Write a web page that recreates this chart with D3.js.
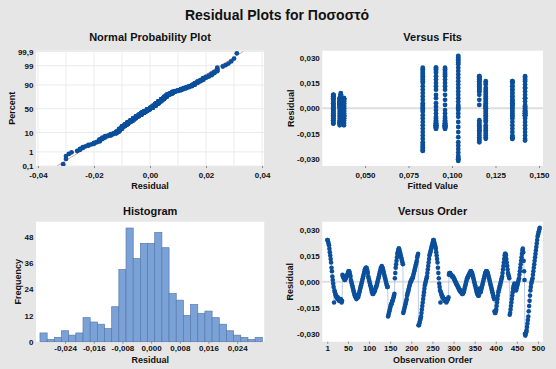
<!DOCTYPE html>
<html>
<head>
<meta charset="utf-8">
<script src="https://cdnjs.cloudflare.com/ajax/libs/d3/7.8.5/d3.min.js"></script>
<style>
body { margin: 0; background: #e6e6e6; }
svg text { font-family: "Liberation Sans", Arial, sans-serif; font-weight: bold; fill: #111; }
</style>
</head>
<body>
<div id="chart"></div>
<script>
// residuals in thousandths, observation order, 14 runs of 36 observations
const residRuns = [
    [24,24,23,22,21,19,17,15,13,11,8,6,3,1,-1,-3,-12,-5,-6,-7,-8,-8,-9,-9,-10,-9,-10,-10,-11,-10,-11,-11,-10,-11,-12,-11],
    [4,3,3,2,2,1,1,2,2,3,3,4,4,5,6,6,6,5,4,3,1,0,-1,-2,-3,-4,-5,-6,-7,-8,-8,-9,-9,-10,-9,-8],
    [-9,-9,-8,-7,-6,-5,-4,-3,-2,-1,0,1,2,3,4,5,6,7,7,8,8,8,7,6,5,3,2,1,0,-1,-2,-3,-4,-5,-6,-7],
    [-7,-7,-6,-6,-5,-5,-4,-3,-3,-2,-1,0,1,2,3,4,5,6,7,8,8,9,8,8,7,6,5,4,3,2,1,0,-1,-2,-3,-3],
    [-20,-19,-18,-17,-16,-15,-14,-13,-13,-12,-11,-11,-10,-9,-8,-7,2,5,8,10,12,14,16,17,18,19,19,18,17,16,15,14,13,12,11,10],
    [-18,-17,-16,-15,-14,-13,-12,-11,-10,-8,-7,-6,-5,-4,-3,-2,-1,0,0,1,1,2,2,3,4,5,6,7,8,9,10,11,12,14,15,16],
    [-25,-25,-24,-23,-22,-21,-20,-18,-16,-14,-12,-10,-8,-6,-4,-2,-1,0,1,2,3,5,7,9,11,13,15,16,17,18,19,20,21,22,23,24],
    [24,23,22,21,20,19,17,15,13,11,8,5,2,-1,-3,-5,-12,-6,-7,-8,-8,-9,-9,-10,-10,-10,-11,-11,-11,-11,-12,-11,-11,-10,-10,-9],
    [4,5,5,5,4,4,4,3,3,3,3,2,2,1,1,0,0,-1,-1,-2,-2,-3,-3,-4,-4,-5,-5,-5,-6,-6,-6,-7,-7,-7,-6,-6],
    [-5,-4,-3,-2,-1,0,1,2,2,3,3,4,4,5,5,6,6,6,5,5,4,3,2,1,0,-1,-2,-3,-4,-5,-6,-7,-7,-8,-8,-8],
    [-4,-5,-6,-6,-5,-4,-3,-2,-1,0,1,2,3,4,5,5,6,6,6,5,5,4,3,2,1,0,-1,-2,-3,-4,-5,-6,-7,-8,-9,-10],
    [-17,-18,-18,-17,-16,-14,-12,-10,-8,-6,-5,-4,-3,-2,-1,0,1,2,3,5,7,9,11,13,15,16,16,15,13,11,9,7,5,4,3,2],
    [-19,-18,-16,-14,-12,-10,-8,-6,-4,-3,-2,-1,-2,-3,-4,-5,-4,-3,-2,-1,0,1,2,4,6,8,10,12,14,16,18,19,17,12,6,1],
    [-30,-31,-30,-29,-28,-26,-24,-22,-20,-17,-14,-11,-8,-5,-3,-1,0,1,2,4,6,8,10,12,14,16,18,20,22,24,26,27,28,29,30,31]
];
// fitted value of each run
const runFits = [0.0908, 0.0355, 0.0318, 0.0361, 0.1157, 0.1194, 0.0832, 0.0960, 0.0367, 0.0373, 0.0379, 0.1347, 0.1420, 0.1036];

// histogram counts, bins of 0.002 starting at -0.031
const histCounts = [4,1,2,5,3,4,11,9,8,6,16,33,52,38,45,45,50,43,22,19,12,17,13,14,11,8,5,3,2,1,2];
const histStart = -0.031;
const histWidth = 0.002;

const probTicks = [0.1, 1, 10, 50, 90, 99, 99.9];
const probXTicks = [-0.04, -0.02, 0, 0.02, 0.04];
const fitXTicks = [0.050, 0.075, 0.100, 0.125, 0.150];
const residTicks = [-0.030, -0.015, 0, 0.015, 0.030];
const histXTicks = [-0.024, -0.016, -0.008, 0, 0.008, 0.016, 0.024];
const histYTicks = [0, 12, 24, 36, 48];
const orderTicks = [1, 50, 100, 150, 200, 250, 300, 350, 400, 450, 500];

// flatten
const obs = [];
residRuns.forEach((run, k) => run.forEach(r => {
    obs.push({ i: obs.length + 1, r: r / 1000, fit: runFits[k] });
}));

// inverse normal cdf (Acklam)
const qnorm = p => {
    const a = [-3.969683028665376e+01, 2.209460984245205e+02, -2.759285104469687e+02, 1.383577518672690e+02, -3.066479806614716e+01, 2.506628277459239e+00];
    const b = [-5.447609879822406e+01, 1.615858368580409e+02, -1.556989798598866e+02, 6.680131188771972e+01, -1.328068155288572e+01];
    const c = [-7.784894002430293e-03, -3.223964580411365e-01, -2.400758276161838e+00, -2.549732539343734e+00, 4.374664141464968e+00, 2.938163982698783e+00];
    const d = [7.784695709041462e-03, 3.224671290700398e-01, 2.445134137142996e+00, 3.754408661907416e+00];
    const tail = q => (((((c[0]*q+c[1])*q+c[2])*q+c[3])*q+c[4])*q+c[5]) / ((((d[0]*q+d[1])*q+d[2])*q+d[3])*q+1);
    if (p < 0.02425) return tail(Math.sqrt(-2 * Math.log(p)));
    if (p > 1 - 0.02425) return -tail(Math.sqrt(-2 * Math.log(1 - p)));
    const q = p - 0.5, r = q * q;
    return (((((a[0]*r+a[1])*r+a[2])*r+a[3])*r+a[4])*r+a[5])*q / (((((b[0]*r+b[1])*r+b[2])*r+b[3])*r+b[4])*r+1);
};

const loc = d3.formatLocale({ decimal: ',', thousands: '.', grouping: [3], currency: ['', ''], minus: '-' });
const blue = '#0b4f9c';

const svg = d3.select('#chart')
    .append('svg')
    .attr('width', 556)
    .attr('height', 369);

svg.append('rect').attr('width', 556).attr('height', 369).attr('fill', '#e6e6e6');

svg.append('text')
    .attr('x', 277).attr('y', 20)
    .attr('text-anchor', 'middle')
    .attr('font-size', 14)
    .text('Residual Plots for Ποσοστό');

// panel frame with titles
const panel = (box, title, titleY, xLabel, xLabelY, yLabel, yLabelX, id) => {
    svg.append('rect')
        .attr('x', box.x0).attr('y', box.y0)
        .attr('width', box.x1 - box.x0).attr('height', box.y1 - box.y0)
        .attr('fill', '#fff');
    svg.append('clipPath').attr('id', id)
        .append('rect')
        .attr('x', box.x0).attr('y', box.y0)
        .attr('width', box.x1 - box.x0).attr('height', box.y1 - box.y0);
    svg.append('text')
        .attr('x', (box.x0 + box.x1) / 2).attr('y', titleY)
        .attr('text-anchor', 'middle').attr('font-size', 11)
        .text(title);
    svg.append('text')
        .attr('x', (box.x0 + box.x1) / 2).attr('y', xLabelY)
        .attr('text-anchor', 'middle').attr('font-size', 9)
        .text(xLabel);
    svg.append('text')
        .attr('transform', `translate(${yLabelX}, ${(box.y0 + box.y1) / 2}) rotate(-90)`)
        .attr('text-anchor', 'middle').attr('font-size', 9)
        .text(yLabel);
};

const xAxis = (scale, y, ticks, fmt, off) => {
    const g = svg.append('g')
        .attr('transform', `translate(0, ${y})`)
        .call(d3.axisBottom(scale).tickValues(ticks).tickFormat(fmt).tickSize(2));
    g.select('.domain').remove();
    g.selectAll('line').attr('stroke', '#888');
    g.selectAll('text').attr('font-size', 8).attr('dy', null).attr('y', off);
};

const yAxis = (scale, x, ticks, fmt) => {
    const g = svg.append('g')
        .attr('transform', `translate(${x}, 0)`)
        .call(d3.axisLeft(scale).tickValues(ticks).tickFormat(fmt).tickSize(0).tickPadding(2.5));
    g.select('.domain').remove();
    g.selectAll('text').attr('font-size', 8);
};

// ---------- Normal probability plot ----------
const b1 = { x0: 36, x1: 264, y0: 50.7, y1: 166 };
panel(b1, 'Normal Probability Plot', 41, 'Residual', 189, 'Percent', 15, 'c1');

const xN = d3.scaleLinear().domain([-0.0407, 0.0407]).range([b1.x0, b1.x1]);
const yN = d3.scaleLinear().domain([qnorm(0.001), qnorm(0.999)]).range([b1.y1, b1.y0 + 0.8]);

svg.append('g').selectAll('line.v')
    .data(d3.range(-4, 5).map(k => k / 100))
    .enter().append('line')
    .attr('x1', d => xN(d)).attr('x2', d => xN(d))
    .attr('y1', b1.y0).attr('y2', b1.y1)
    .attr('stroke', '#ebebeb');
svg.append('g').selectAll('line.h')
    .data(probTicks)
    .enter().append('line')
    .attr('x1', b1.x0).attr('x2', b1.x1)
    .attr('y1', d => yN(qnorm(d / 100))).attr('y2', d => yN(qnorm(d / 100)))
    .attr('stroke', '#ebebeb');

const sorted = obs.map(d => d.r).sort(d3.ascending);
const n = sorted.length;
const probPts = sorted.map((r, k) => ({ r, z: qnorm((k + 1 - 0.3) / (n + 0.4)) }));
const mu = d3.mean(sorted), sd = d3.deviation(sorted);

svg.append('line')
    .attr('clip-path', 'url(#c1)')
    .attr('x1', xN(mu + sd * qnorm(0.001))).attr('y1', yN(qnorm(0.001)))
    .attr('x2', xN(mu + sd * qnorm(0.999))).attr('y2', yN(qnorm(0.999)))
    .attr('stroke', '#e58a8a').attr('stroke-width', 0.8);

svg.append('g').attr('clip-path', 'url(#c1)')
    .selectAll('circle')
    .data(probPts)
    .enter().append('circle')
    .attr('cx', d => xN(d.r)).attr('cy', d => yN(d.z))
    .attr('r', 2.4).attr('fill', blue);

xAxis(xN, b1.y1, probXTicks, loc.format('.2f'), 12);
yAxis(d3.scaleLinear().domain(yN.domain()).range(yN.range()), b1.x0,
    probTicks.map(p => qnorm(p / 100)),
    z => String(probTicks.find(p => Math.abs(qnorm(p / 100) - z) < 1e-9)).replace('.', ','));

// ---------- Versus fits ----------
const b2 = { x0: 322.3, x1: 543, y0: 50.7, y1: 166 };
panel(b2, 'Versus Fits', 41, 'Fitted Value', 189, 'Residual', 294, 'c2');

const xF = d3.scaleLinear().domain([0.02546, 0.1523]).range([b2.x0, b2.x1]);
const yF = d3.scaleLinear().domain([-0.034, 0.034]).range([b2.y1, b2.y0]);

svg.append('line')
    .attr('x1', b2.x0).attr('x2', b2.x1)
    .attr('y1', yF(0)).attr('y2', yF(0))
    .attr('stroke', '#dedede').attr('stroke-width', 2);

svg.append('g').attr('clip-path', 'url(#c2)')
    .selectAll('circle')
    .data(obs)
    .enter().append('circle')
    .attr('cx', d => xF(d.fit)).attr('cy', d => yF(d.r))
    .attr('r', 2.4).attr('fill', blue);

xAxis(xF, b2.y1, fitXTicks, loc.format('.3f'), 11.5);
yAxis(yF, b2.x0, residTicks, loc.format('.3f'));

// ---------- Histogram ----------
const b3 = { x0: 36, x1: 264.3, y0: 221.7, y1: 341.7 };
panel(b3, 'Histogram', 215, 'Residual', 362.5, 'Frequency', 20.5, 'c3');

const xH = d3.scaleLinear().domain([-0.03211, 0.03156]).range([b3.x0, b3.x1]);
const yH = d3.scaleLinear().domain([0, 54.9]).range([b3.y1, b3.y0]);

svg.append('g')
    .selectAll('rect')
    .data(histCounts)
    .enter().append('rect')
    .attr('x', (d, i) => xH(histStart + i * histWidth))
    .attr('width', xH(histWidth) - xH(0))
    .attr('y', d => yH(d))
    .attr('height', d => yH(0) - yH(d))
    .attr('fill', '#7ba2d7')
    .attr('stroke', '#5879ad')
    .attr('stroke-width', 0.7);

xAxis(xH, b3.y1, histXTicks, loc.format('.3f'), 9.8);
yAxis(yH, b3.x0, histYTicks, d3.format('d'));

// ---------- Versus order ----------
const b4 = { x0: 322.3, x1: 543, y0: 221.7, y1: 341.7 };
panel(b4, 'Versus Order', 215, 'Observation Order', 363, 'Residual', 293, 'c4');

const xO = d3.scaleLinear().domain([-10.8, 511.8]).range([b4.x0, b4.x1]);
const yO = d3.scaleLinear().domain([-0.0345, 0.0345]).range([b4.y1, b4.y0]);

svg.append('line')
    .attr('x1', b4.x0).attr('x2', b4.x1)
    .attr('y1', yO(0)).attr('y2', yO(0))
    .attr('stroke', '#dedede').attr('stroke-width', 2);

const orderLine = d3.line()
    .x(d => xO(d.i))
    .y(d => yO(d.r));

svg.append('path')
    .datum(obs)
    .attr('d', orderLine)
    .attr('fill', 'none')
    .attr('stroke', '#a9bfe0')
    .attr('stroke-width', 0.8);

svg.append('g').attr('clip-path', 'url(#c4)')
    .selectAll('circle')
    .data(obs)
    .enter().append('circle')
    .attr('cx', d => xO(d.i)).attr('cy', d => yO(d.r))
    .attr('r', 2.3).attr('fill', blue);

xAxis(xO, b4.y1, orderTicks, d3.format('d'), 9.6);
yAxis(yO, b4.x0, residTicks, loc.format('.3f'));
</script>
</body>
</html>
